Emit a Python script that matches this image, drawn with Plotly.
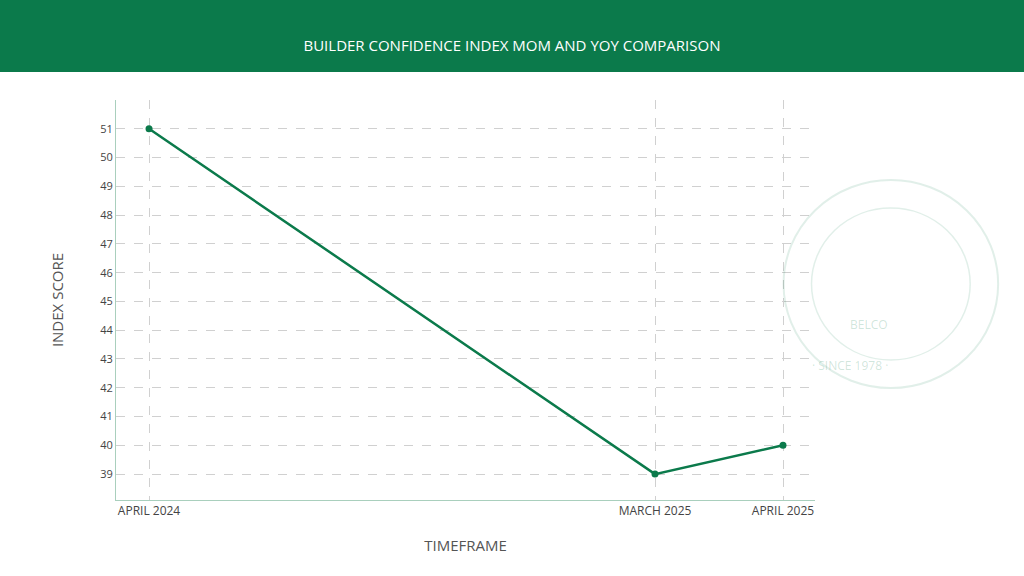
import plotly.graph_objects as go

labels = ["APRIL 2024", "MARCH 2025", "APRIL 2025"]
x_pos = [0, 3.953, 4.953]
scores = [51, 39, 40]
y_ticks = list(range(39, 52))

GREEN = "#0b7a4b"
fig = go.Figure()
fig.add_trace(go.Scatter(x=x_pos, y=scores, mode="lines+markers",
                         line=dict(color=GREEN, width=2.5),
                         marker=dict(color=GREEN, size=7), showlegend=False))

# header band and watermark
fig.add_shape(type="rect", xref="paper", yref="paper", x0=-0.2, x1=1.3, y0=1.07, y1=1.3,
              fillcolor=GREEN, line_width=0, layer="below")
fig.add_shape(type="circle", xref="paper", yref="paper", x0=0.955, x1=1.262, y0=0.28, y1=0.8,
              line=dict(color="rgba(11,122,75,0.12)", width=2))
fig.add_shape(type="circle", xref="paper", yref="paper", x0=0.995, x1=1.222, y0=0.35, y1=0.73,
              line=dict(color="rgba(11,122,75,0.12)", width=1.5))
fig.add_annotation(text="BELCO", xref="paper", yref="paper", x=1.108, y=0.44, showarrow=False,
                   font=dict(family="Open Sans", size=12, color="rgba(11,122,75,0.2)"))
fig.add_annotation(text="· SINCE 1978 ·", xref="paper", yref="paper", x=1.108, y=0.31, showarrow=False,
                   font=dict(family="Open Sans", size=12, color="rgba(11,122,75,0.2)"))

fig.update_layout(
    width=1024, height=576, plot_bgcolor="white", paper_bgcolor="white",
    margin=dict(l=116, r=209, t=100, b=76),
    title=dict(text="BUILDER CONFIDENCE INDEX MOM AND YOY COMPARISON", x=0.5, y=0.92,
               xanchor="center", yanchor="middle",
               font=dict(family="Open Sans", size=15, color="white")),
    xaxis=dict(range=[-0.258, 5.203], tickvals=x_pos, ticktext=labels,
               showgrid=True, gridcolor="#d0d0d0", griddash="dash", zeroline=False,
               showline=True, linecolor="#a9cfbd", linewidth=1,
               tickfont=dict(family="Open Sans", size=12, color="#444"),
               title=dict(text="TIMEFRAME", standoff=22,
                          font=dict(family="Open Sans", size=15, color="#555"))),
    yaxis=dict(range=[38.1, 52.0], tickvals=y_ticks,
               showgrid=True, gridcolor="#d0d0d0", griddash="dash", zeroline=False,
               showline=True, linecolor="#a9cfbd", linewidth=1,
               tickfont=dict(family="Open Sans", size=11, color="#444"),
               title=dict(text="INDEX SCORE", standoff=32,
                          font=dict(family="Open Sans", size=15, color="#555"))),
)
fig.write_html("out.html", config={"displayModeBar": False},
               post_script="document.body.style.margin='0';")
